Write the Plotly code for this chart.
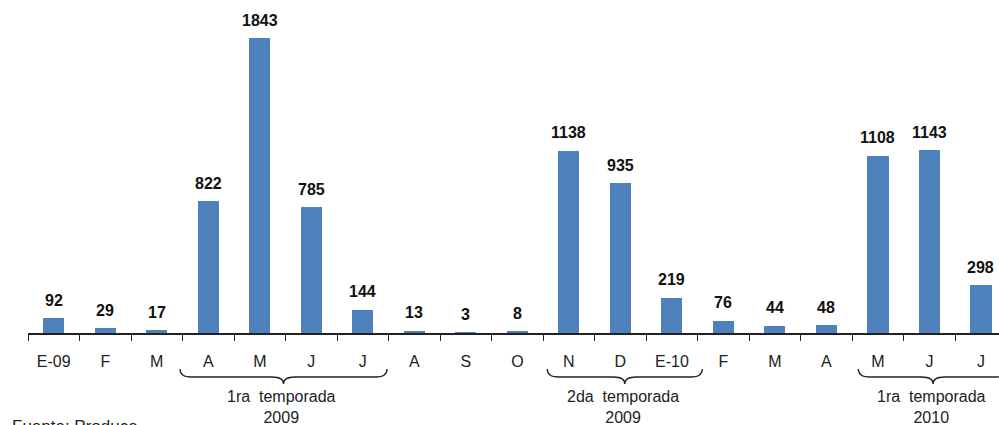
import plotly.graph_objects as go

# Monthly values, Jan 2009 - Jul 2010
categories = ["E-09", "F", "M", "A", "M", "J", "J", "A", "S", "O",
              "N", "D", "E-10", "F", "M", "A", "M", "J", "J"]
values = [92, 29, 17, 822, 1843, 785, 144, 13, 3, 8,
          1138, 935, 219, 76, 44, 48, 1108, 1143, 298]

# Season groupings: (label, year, first index, last index)
seasons = [
    ("1ra  temporada", "2009", 3, 6),
    ("2da  temporada", "2009", 10, 12),
    ("1ra  temporada", "2010", 16, 18),
]
source_note = "Fuente: Produce"

W, H = 999, 425
M_L, M_R, M_T, M_B = 28, 0, 13, 92
PLOT_H = H - M_T - M_B
AXIS_PX = H - M_B
FONT = "Arial, Liberation Sans"


def paper_y(px):
    """Convert a pixel row in the page to a paper y coordinate."""
    return (AXIS_PX - px) / PLOT_H


x = list(range(len(categories)))

fig = go.Figure()
fig.add_trace(go.Bar(
    x=x, y=values, width=0.41,
    marker=dict(color="#4F81BD", line=dict(width=0)),
    hoverinfo="skip",
))

annotations = []
# value labels above the bars
for xi, v in zip(x, values):
    annotations.append(dict(
        x=xi, y=v, xref="x", yref="y", text=f"<b>{v}</b>",
        showarrow=False, yanchor="middle", yshift=18,
        font=dict(family=FONT, size=16, color="#111111"),
    ))

shapes = []
offsets = [(-0.05, -0.03), (0.08, 0.09), (0.12, 0.02)]
for (line1, line2, a, b), (da, db) in zip(seasons, offsets):
    x1 = a - 0.5 + da
    x2 = b + 0.5 + db
    xc = (x1 + x2) / 2
    r = 0.22
    yt, ym, yb = paper_y(369), paper_y(377), paper_y(384)
    path = (
        f"M {x1},{yt} Q {x1},{ym} {x1 + r},{ym} "
        f"L {xc - r},{ym} Q {xc},{ym} {xc},{yb} "
        f"Q {xc},{ym} {xc + r},{ym} "
        f"L {x2 - r},{ym} Q {x2},{ym} {x2},{yt}"
    )
    shapes.append(dict(type="path", xref="x", yref="paper", path=path,
                       line=dict(color="#222222", width=1.3)))
    annotations.append(dict(
        x=xc - 0.03, y=paper_y(407), xref="x", yref="paper",
        text=f"{line1}<br>{line2}", showarrow=False,
        xanchor="center", yanchor="middle",
        font=dict(family=FONT, size=16, color="#222222"),
    ))

annotations.append(dict(
    x=-18 / (W - M_L - M_R), y=paper_y(415), xref="paper", yref="paper",
    text=source_note, showarrow=False, xanchor="left", yanchor="top",
    font=dict(family=FONT, size=17, color="#222222"),
))

boundaries = [i - 0.5 for i in range(len(categories) + 1)]

fig.update_layout(
    width=W, height=H,
    margin=dict(l=M_L, r=M_R, t=M_T, b=M_B),
    paper_bgcolor="white", plot_bgcolor="white",
    showlegend=False,
    bargap=0,
    annotations=annotations,
    shapes=shapes,
    xaxis=dict(
        range=[-0.5, 18.35],
        tickmode="array", tickvals=x, ticktext=categories,
        ticks="outside", ticklen=13, tickcolor="rgba(0,0,0,0)",
        showline=True, linecolor="#222222", linewidth=1.6,
        showgrid=False, zeroline=False,
        tickfont=dict(family=FONT, size=16, color="#222222"),
        minor=dict(tickmode="array", tickvals=boundaries, ticks="outside",
                   ticklen=6, tickwidth=1.3, tickcolor="#222222", showgrid=False),
    ),
    yaxis=dict(range=[0, 2000], visible=False, showgrid=False, zeroline=False),
)

fig.write_html("out.html")
